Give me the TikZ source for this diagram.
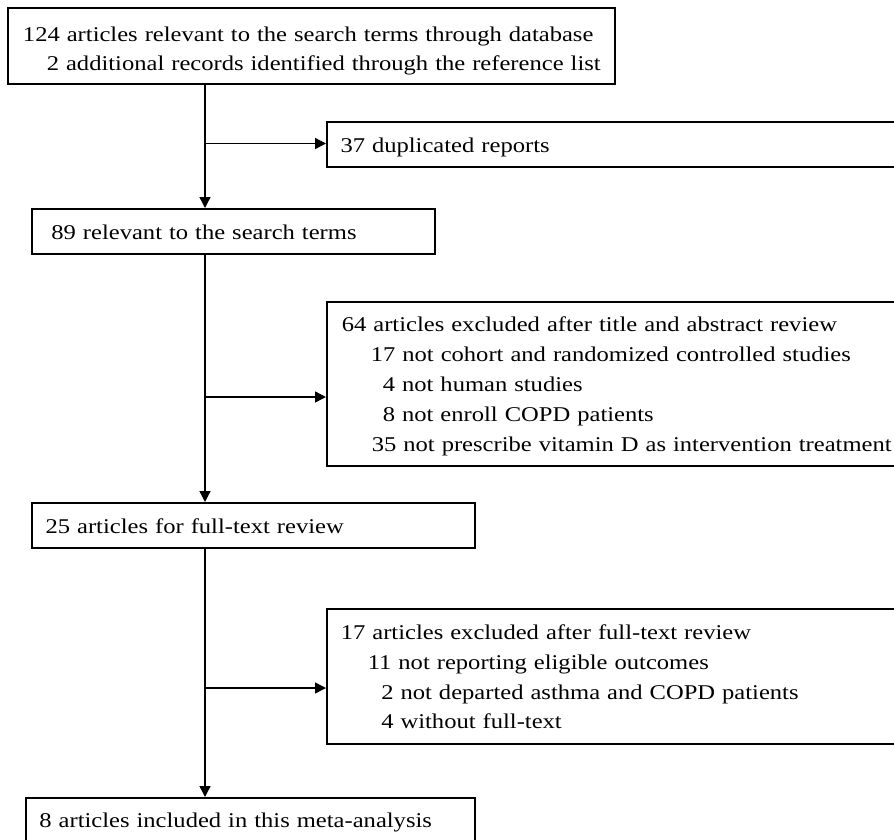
\documentclass[tikz,border=0pt]{standalone}
\usepackage{fontspec}
\setmainfont{Liberation Serif}[FakeStretch=1.17]
\usetikzlibrary{arrows.meta}
\tikzset{
  box/.style={draw, line width=1.6pt, inner sep=0pt, anchor=north west, align=left,
    font=\fontsize{21pt}{30pt}\selectfont},
  conn/.style={line width=1.4pt, -{Triangle[length=11pt,width=11pt]}},
}
\begin{document}
\begin{tikzpicture}[x=1pt,y=-1pt]
\useasboundingbox (0,0) rectangle (894,839);
\clip (0,0) rectangle (894,839);
\node[box, text width=607pt, text height=33.7pt, text depth=42.3pt,
  font=\fontsize{21pt}{28.6pt}\selectfont] (B1) at (7,7)
  {\hspace*{15.2pt}124 articles relevant to the search terms through database\\
   \hspace*{39pt}2 additional records identified through the reference list};
\node[box, text width=600pt, text height=30.7pt, text depth=14.3pt] (B37) at (326,121)
  {\hspace*{13.7pt}37 duplicated reports};
\node[box, text width=403pt, text height=30.3pt, text depth=14.7pt] (B89) at (31,208)
  {\hspace*{19.6pt}89 relevant to the search terms};
\node[box, text width=600pt, text height=30pt, text depth=134pt] (B64) at (326,301)
  {\hspace*{15pt}64 articles excluded after title and abstract review\\
   \hspace*{44pt}17 not cohort and randomized controlled studies\\
   \hspace*{56pt}4 not human studies\\
   \hspace*{56pt}8 not enroll COPD patients\\
   \hspace*{45pt}35 not prescribe vitamin D as intervention treatment};
\node[box, text width=443pt, text height=31pt, text depth=14pt] (B25) at (31,502)
  {\hspace*{13.8pt}25 articles for full-text review};
\node[box, text width=600pt, text height=31pt, text depth=104pt,
  font=\fontsize{21pt}{29.7pt}\selectfont] (B17) at (326,608)
  {\hspace*{14pt}17 articles excluded after full-text review\\
   \hspace*{41pt}11 not reporting eligible outcomes\\
   \hspace*{54.5pt}2 not departed asthma and COPD patients\\
   \hspace*{54.5pt}4 without full-text};
\node[box, text width=449pt, text height=29.7pt, text depth=40pt] (B8) at (25,797)
  {\hspace*{13.6pt}8 articles included in this meta-analysis};
\coordinate (j1) at (205,143.5);
\coordinate (j2) at (205,397);
\coordinate (j3) at (205,688);
\draw[conn] (B1.south -| j1) -- (B89.north -| j1);
\draw[conn] (j1) -- (j1 -| B37.west);
\draw[conn] (B89.south -| j2) -- (B25.north -| j2);
\draw[conn] (j2) -- (j2 -| B64.west);
\draw[conn] (B25.south -| j3) -- (B8.north -| j3);
\draw[conn] (j3) -- (j3 -| B17.west);
\end{tikzpicture}
\end{document}
